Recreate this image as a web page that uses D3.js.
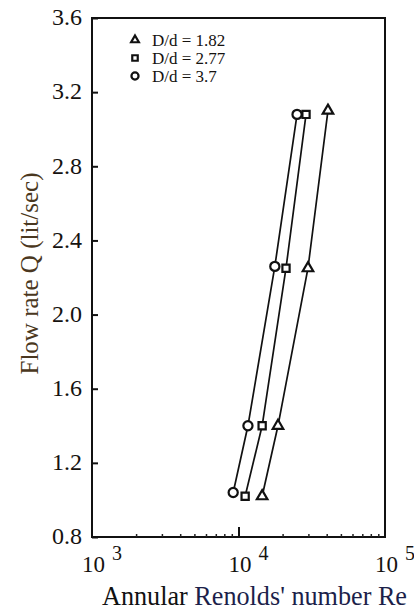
<!DOCTYPE html>
<html>
<head>
<meta charset="utf-8">
<script src="https://cdn.jsdelivr.net/npm/d3@7"></script>
<style>
  body { margin: 0; background: #fff; }
  svg { display: block; }
</style>
</head>
<body>
<svg id="chart" width="414" height="611"></svg>
<script>
// Flow rate vs. annular Reynolds number for three diameter ratios
const seriesNames = ["D/d = 1.82", "D/d = 2.77", "D/d = 3.7"];
const seriesShapes = ["triangle", "square", "circle"];
const reTri  = [14500, 18600, 29800, 40800];
const qTri   = [1.02, 1.40, 2.25, 3.10];
const reSq   = [11100, 14500, 21100, 28900];
const qSq    = [1.02, 1.40, 2.25, 3.08];
const reCirc = [9200, 11600, 17700, 25100];
const qCirc  = [1.04, 1.40, 2.26, 3.08];
const yTicks = [0.8, 1.2, 1.6, 2.0, 2.4, 2.8, 3.2, 3.6];
const xDecades = [3, 4, 5];
const xTitleParts = ["Annular", " Renolds' number Re"];
const yTitle = "Flow rate Q (lit/sec)";

const FONT = '"Liberation Serif", "Times New Roman", serif';

const series = [
  { name: seriesNames[0], shape: seriesShapes[0], re: reTri,  q: qTri },
  { name: seriesNames[1], shape: seriesShapes[1], re: reSq,   q: qSq },
  { name: seriesNames[2], shape: seriesShapes[2], re: reCirc, q: qCirc }
];

const svg = d3.select("#chart");
const plotL = 92, plotR = 385, plotT = 18, plotB = 537;

const x = d3.scaleLog().domain([1e3, 1e5]).range([plotL, plotR]);
const y = d3.scaleLinear().domain([0.8, 3.6]).range([plotB, plotT]);

const symbolTypes = {
  triangle: d3.symbolTriangle,
  square: d3.symbolSquare,
  circle: d3.symbolCircle
};
const plotSizes = { triangle: 48, square: 52, circle: 66 };
const legendSizes = { triangle: 26, square: 30, circle: 40 };

// frame
svg.append("rect")
  .attr("x", plotL).attr("y", plotT)
  .attr("width", plotR - plotL).attr("height", plotB - plotT)
  .attr("fill", "none").attr("stroke", "#111").attr("stroke-width", 2);

// y axis: inward ticks and labels
const yAxis = svg.append("g")
  .attr("transform", `translate(${plotL},0)`)
  .call(d3.axisLeft(y).tickValues(yTicks).tickSize(-6).tickPadding(10)
        .tickFormat(d3.format(".1f")));
yAxis.select(".domain").remove();
yAxis.selectAll(".tick line").attr("stroke", "#111").attr("stroke-width", 2);
yAxis.selectAll(".tick text")
  .style("font-family", FONT)
  .attr("font-size", 24).attr("fill", "#15120f").attr("dy", "0.28em");

// x axis: minor ticks per decade, a longer tick at 10^4
const minorTicks = [];
[1e3, 1e4].forEach(base => { for (let k = 2; k <= 9; k++) minorTicks.push(base * k); });
const xMinor = svg.append("g")
  .attr("transform", `translate(0,${plotB})`)
  .call(d3.axisBottom(x).tickValues(minorTicks).tickSize(-3).tickFormat(""));
xMinor.select(".domain").remove();
xMinor.selectAll(".tick line").attr("stroke", "#222").attr("stroke-width", 1.5);

const xMajor = svg.append("g")
  .attr("transform", `translate(0,${plotB})`)
  .call(d3.axisBottom(x).tickValues([1e4]).tickSize(-10).tickFormat(""));
xMajor.select(".domain").remove();
xMajor.selectAll(".tick line").attr("stroke", "#111").attr("stroke-width", 2);

// decade labels as 10 with superscript exponent
const decLabels = svg.append("g");
xDecades.forEach(p => {
  const cx = x(Math.pow(10, p));
  const t = decLabels.append("text")
    .style("font-family", FONT)
    .attr("x", cx - 10).attr("y", 572)
    .attr("font-size", 23).attr("fill", "#15120f");
  t.append("tspan").text("10");
  t.append("tspan").attr("dx", 7).attr("dy", -12).attr("font-size", 20).text(String(p));
});

// axis titles
const xt = svg.append("text")
  .style("font-family", FONT)
  .attr("x", 102).attr("y", 605).attr("font-size", 27)
  .attr("textLength", 305).attr("lengthAdjust", "spacingAndGlyphs");
xt.append("tspan").attr("fill", "#111").text(xTitleParts[0]);
xt.append("tspan").attr("fill", "#1c1f4a").text(xTitleParts[1]);

svg.append("text")
  .style("font-family", FONT)
  .attr("transform", `translate(38,${(170 + 377) / 2}) rotate(-90)`)
  .attr("text-anchor", "middle")
  .attr("font-size", 25).attr("fill", "#4a3720")
  .text(yTitle);

// series lines and markers
const line = d3.line().x(d => x(d[0])).y(d => y(d[1]));
series.forEach(s => {
  const pts = s.re.map((r, i) => [r, s.q[i]]);
  svg.append("path")
    .datum(pts)
    .attr("d", line)
    .attr("fill", "none").attr("stroke", "#111").attr("stroke-width", 1.7);
  svg.append("g").selectAll("path")
    .data(pts)
    .join("path")
    .attr("transform", d => `translate(${x(d[0])},${y(d[1])})`)
    .attr("d", d3.symbol().type(symbolTypes[s.shape]).size(plotSizes[s.shape]))
    .attr("fill", "#fff").attr("stroke", "#111").attr("stroke-width", 2.2);
});

// legend
const legend = svg.append("g");
const legendRowsY = [40, 58, 76];
series.forEach((s, i) => {
  legend.append("path")
    .attr("transform", `translate(135,${legendRowsY[i]})`)
    .attr("d", d3.symbol().type(symbolTypes[s.shape]).size(legendSizes[s.shape]))
    .attr("fill", "#fff").attr("stroke", "#111").attr("stroke-width", 2.2);
  legend.append("text")
    .style("font-family", FONT)
    .attr("x", 152).attr("y", legendRowsY[i] + 6)
    .attr("font-size", 17).attr("fill", "#15120f")
    .text(s.name);
});
</script>
</body>
</html>
